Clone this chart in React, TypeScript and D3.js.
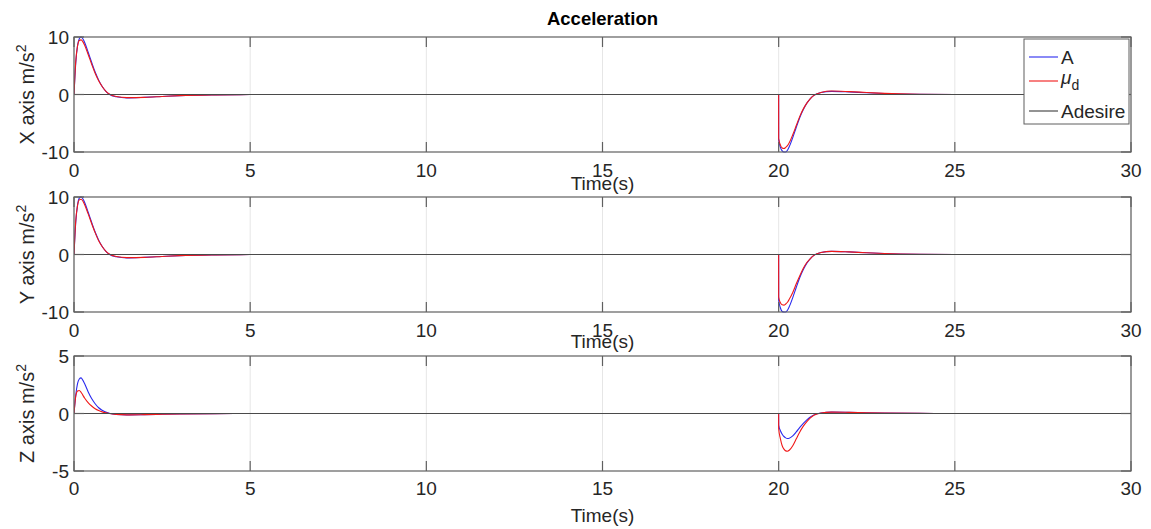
import React from "react";
import * as d3 from "d3";

// sample times (s), shared by every recorded series
const time = [
  0, 0.05, 0.1, 0.15, 0.2, 0.25, 0.3, 0.4, 0.5, 0.6, 0.7, 0.8, 0.9, 1.0, 1.2, 1.5, 2.0, 2.5, 3.0, 4.0, 5.0,
  19.999, 20, 20.05, 20.1, 20.15, 20.2, 20.25, 20.3, 20.4, 20.5, 20.6, 20.7, 20.8, 20.9, 21.0, 21.2, 21.5,
  22.0, 22.5, 23.0, 24.0, 25.0, 30.0,
];

const xA = [
  0, 5.5, 8.5, 9.7, 10, 9.7, 9.1, 7.4, 5.6, 3.9, 2.5, 1.4, 0.6, 0.05, -0.4, -0.6, -0.5, -0.35, -0.2, -0.06, -0.01,
  0, -7.8, -9.2, -9.8, -10, -10, -9.7, -9.1, -7.5, -5.7, -4.0, -2.6, -1.5, -0.7, -0.15, 0.35, 0.55,
  0.45, 0.3, 0.18, 0.05, 0.01, 0,
];
const xMu = [
  0, 5.8, 8.4, 9.4, 9.5, 9.2, 8.6, 7.0, 5.3, 3.7, 2.4, 1.4, 0.6, 0.1, -0.35, -0.55, -0.5, -0.35, -0.2, -0.06, -0.01,
  0, -7.6, -8.8, -9.3, -9.4, -9.2, -8.9, -8.4, -7.0, -5.4, -3.8, -2.5, -1.5, -0.7, -0.15, 0.35, 0.6,
  0.5, 0.35, 0.2, 0.05, 0.01, 0,
];

const yA = [
  0, 5.6, 8.6, 9.8, 10, 9.7, 9.1, 7.4, 5.6, 3.9, 2.5, 1.4, 0.6, 0.05, -0.4, -0.6, -0.5, -0.35, -0.2, -0.06, -0.01,
  0, -7.9, -9.3, -9.9, -10, -10, -9.7, -9.1, -7.5, -5.7, -4.0, -2.6, -1.5, -0.7, -0.15, 0.35, 0.55,
  0.45, 0.3, 0.18, 0.05, 0.01, 0,
];
const yMu = [
  0, 5.9, 8.5, 9.5, 9.6, 9.3, 8.7, 7.1, 5.4, 3.8, 2.4, 1.4, 0.6, 0.1, -0.35, -0.55, -0.5, -0.35, -0.2, -0.06, -0.01,
  0, -7.4, -8.4, -8.75, -8.8, -8.6, -8.3, -7.8, -6.6, -5.1, -3.7, -2.4, -1.4, -0.7, -0.15, 0.35, 0.55,
  0.45, 0.3, 0.18, 0.05, 0.01, 0,
];

const zA = [
  0, 1.6, 2.6, 3.0, 3.1, 2.9, 2.6, 1.9, 1.3, 0.85, 0.5, 0.28, 0.12, 0.02, -0.08, -0.12, -0.1, -0.07, -0.04, -0.01, 0,
  0, -1.0, -1.5, -1.8, -2.0, -2.12, -2.17, -2.15, -1.95, -1.6, -1.2, -0.85, -0.55, -0.3, -0.12, 0.05, 0.12,
  0.1, 0.07, 0.04, 0.01, 0, 0,
];
const zMu = [
  0, 1.5, 1.95, 2.0, 1.85, 1.6, 1.35, 0.95, 0.65, 0.42, 0.26, 0.14, 0.06, 0.0, -0.08, -0.12, -0.1, -0.07, -0.04, -0.01, 0,
  0, -1.3, -2.2, -2.8, -3.1, -3.25, -3.28, -3.2, -2.8, -2.2, -1.6, -1.1, -0.7, -0.38, -0.15, 0.05, 0.12,
  0.1, 0.07, 0.04, 0.01, 0, 0,
];

const desiredTime = [0, 30];
const desired = [0, 0];

const xTicks = [0, 5, 10, 15, 20, 25, 30];

const panels = [
  { label: "X", a: xA, mu: xMu, lim: 10, yTicks: [-10, 0, 10], top: 37, tickDy: 25, timeDy: 38 },
  { label: "Y", a: yA, mu: yMu, lim: 10, yTicks: [-10, 0, 10], top: 197, tickDy: 25, timeDy: 36 },
  { label: "Z", a: zA, mu: zMu, lim: 5, yTicks: [-5, 0, 5], top: 356, tickDy: 24, timeDy: 51 },
];

const W = 1151;
const H = 529;
const left = 74;
const right = 1131;
const ph = 115;
const font = "'Liberation Sans', Arial, Helvetica, sans-serif";
const axisColor = "#5f5f5f";
const fs = 19;

function Panel({ p, showLegend }) {
  const x = d3.scaleLinear().domain([0, 30]).range([left, right]);
  const y = d3.scaleLinear().domain([-p.lim, p.lim]).range([p.top + ph, p.top]);
  const line = d3
    .line<number>()
    .x((_, i) => x(time[i]))
    .y((d) => y(d))
    .curve(d3.curveMonotoneX);
  const flat = d3
    .line<number>()
    .x((_, i) => x(desiredTime[i]))
    .y((d) => y(d));
  const bottom = p.top + ph;
  const tl = 10;

  return (
    <g>
      <rect x={left} y={p.top} width={right - left} height={ph} fill="#fff" />
      {xTicks.map((t) => (
        <line key={"g" + t} x1={x(t)} x2={x(t)} y1={p.top} y2={bottom} stroke="#e6e6e6" strokeWidth={1} />
      ))}
      <defs>
        <clipPath id={"clip" + p.label}>
          <rect x={left} y={p.top - 1} width={right - left} height={ph + 2} />
        </clipPath>
      </defs>
      <g clipPath={`url(#clip${p.label})`}>
        <path d={line(p.a) || ""} fill="none" stroke="#2a2aee" strokeWidth={1.1} />
        <path d={line(p.mu) || ""} fill="none" stroke="#f01818" strokeWidth={1.1} />
        <path d={flat(desired) || ""} fill="none" stroke="#4a4a4a" strokeWidth={1.2} />
      </g>
      <rect x={left} y={p.top} width={right - left} height={ph} fill="none" stroke={axisColor} strokeWidth={1.2} />
      {xTicks.map((t) => (
        <g key={"t" + t}>
          <line x1={x(t)} x2={x(t)} y1={bottom} y2={bottom - tl} stroke={axisColor} strokeWidth={1.2} />
          <line x1={x(t)} x2={x(t)} y1={p.top} y2={p.top + tl} stroke={axisColor} strokeWidth={1.2} />
          <text x={x(t)} y={bottom + p.tickDy} textAnchor="middle" fontSize={fs} fill="#262626" fontFamily={font}>
            {t}
          </text>
        </g>
      ))}
      {p.yTicks.map((t) => (
        <g key={"y" + t}>
          <line x1={left} x2={left + 10} y1={y(t)} y2={y(t)} stroke={axisColor} strokeWidth={1.2} />
          <line x1={right} x2={right - 10} y1={y(t)} y2={y(t)} stroke={axisColor} strokeWidth={1.2} />
          <text x={left - 5} y={y(t) + 7} textAnchor="end" fontSize={fs} fill="#262626" fontFamily={font}>
            {t}
          </text>
        </g>
      ))}
      <text
        x={(left + right) / 2}
        y={bottom + p.timeDy}
        textAnchor="middle"
        fontSize={fs}
        fill="#262626"
        fontFamily={font}
      >
        Time(s)
      </text>
      <text
        transform={`translate(34, ${p.top + ph / 2}) rotate(-90)`}
        textAnchor="middle"
        fontSize={20}
        fill="#262626"
        fontFamily={font}
      >
        {p.label} axis m/s<tspan dy={-8} fontSize={14}>2</tspan>
      </text>
      {showLegend && (
        <g>
          <rect x={1024} y={39} width={105} height={85} fill="#fff" stroke={axisColor} strokeWidth={1} />
          <line x1={1029} x2={1058} y1={57} y2={57} stroke="#2a2aee" strokeWidth={1.1} />
          <text x={1061} y={64} fontSize={fs} fill="#262626" fontFamily={font}>A</text>
          <line x1={1029} x2={1058} y1={81} y2={81} stroke="#f01818" strokeWidth={1.1} />
          <text x={1061} y={84} fontSize={fs} fill="#262626" fontFamily={font} fontStyle="italic">
            μ<tspan dy={6} fontSize={14} fontStyle="normal">d</tspan>
          </text>
          <line x1={1029} x2={1058} y1={111} y2={111} stroke="#4a4a4a" strokeWidth={1.2} />
          <text x={1061} y={118} fontSize={fs} fill="#262626" fontFamily={font}>Adesire</text>
        </g>
      )}
    </g>
  );
}

export default function App() {
  return (
    <svg width={W} height={H} style={{ position: "absolute", left: 0, top: 0, background: "#fff" }}>
      <rect width={W} height={H} fill="#fff" />
      {panels.map((p, i) => (
        <Panel key={p.label} p={p} showLegend={i === 0} />
      ))}
      <text
        x={(left + right) / 2}
        y={25}
        textAnchor="middle"
        fontSize={18.5}
        fontWeight="bold"
        fill="#000"
        fontFamily={font}
      >
        Acceleration
      </text>
    </svg>
  );
}
